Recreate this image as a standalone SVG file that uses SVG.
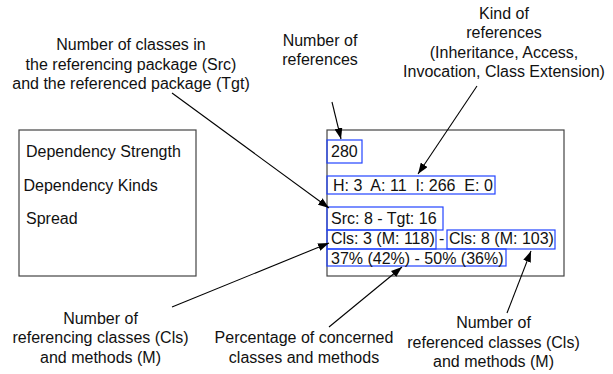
<svg xmlns="http://www.w3.org/2000/svg" width="613" height="374" viewBox="0 0 613 374">
<style>
text{font-family:"Liberation Sans",Arial,Helvetica,sans-serif;font-size:16px;fill:#111}
.c{text-anchor:middle}
.box{fill:#fff;stroke:#444;stroke-width:1.2}
.b{fill:none;stroke:#2244ff;stroke-width:1.2}
.ln{stroke:#000;stroke-width:1.1;fill:none}
</style>
<defs>
<marker id="ah" markerUnits="userSpaceOnUse" markerWidth="11" markerHeight="8" refX="11" refY="4" orient="auto">
<path d="M0,0 L11,4 L0,8 z" fill="#000"/>
</marker>
</defs>
<rect width="613" height="374" fill="#fff"/>
<g id="left-box">
<rect class="box" x="19" y="130" width="177" height="146"/>
<text x="26" y="157">Dependency Strength</text>
<text x="23.5" y="190.5">Dependency Kinds</text>
<text x="26" y="224">Spread</text>
</g>
<g id="right-box">
<rect class="box" x="327" y="130" width="237" height="146"/>
</g>
<g id="refs-count">
<rect class="b" x="327" y="140" width="35" height="23"/>
<text x="331" y="156.5">280</text>
</g>
<g id="kinds">
<rect class="b" x="327" y="176" width="168" height="18"/>
<text x="333" y="191" xml:space="preserve">H: 3  A: 11  I: 266  E: 0</text>
</g>
<g id="src-tgt">
<rect class="b" x="327" y="207" width="116" height="23"/>
<text x="331" y="224">Src: 8 - Tgt: 16</text>
</g>
<g id="cls-src">
<rect class="b" x="327" y="230" width="109" height="19"/>
<text x="331" y="244">Cls: 3 (M: 118)</text>
</g>
<g id="dash">
<text x="439" y="244">-</text>
</g>
<g id="cls-tgt">
<rect class="b" x="447" y="230" width="108" height="19"/>
<text x="449" y="244">Cls: 8 (M: 103)</text>
</g>
<g id="percent">
<rect class="b" x="327" y="249" width="179" height="17"/>
<text x="331" y="264">37% (42%) - 50% (36%)</text>
</g>
<g id="label-src-tgt">
<text class="c" x="131" y="50">Number of classes in</text>
<text class="c" x="131" y="69.5">the referencing package (Src)</text>
<text class="c" x="131" y="89">and the referenced package (Tgt)</text>
</g>
<g id="label-refs">
<text class="c" x="320" y="45.5">Number of</text>
<text class="c" x="320" y="64.5">references</text>
</g>
<g id="label-kinds">
<text class="c" x="504" y="18.5">Kind of</text>
<text class="c" x="504" y="38">references</text>
<text class="c" x="504" y="57.5">(Inheritance, Access,</text>
<text class="c" x="504" y="77">Invocation, Class Extension)</text>
</g>
<g id="label-cls-src">
<text class="c" x="100.5" y="323.5">Number of</text>
<text class="c" x="100.5" y="343">referencing classes (Cls)</text>
<text class="c" x="100.5" y="362.5">and methods (M)</text>
</g>
<g id="label-percent">
<text class="c" x="304" y="343">Percentage of concerned</text>
<text class="c" x="304" y="362.5">classes and methods</text>
</g>
<g id="label-cls-tgt">
<text class="c" x="493.5" y="327.5">Number of</text>
<text class="c" x="493.5" y="347.5">referenced classes (Cls)</text>
<text class="c" x="493.5" y="367">and methods (M)</text>
</g>
<g id="connectors">
<line class="ln" x1="172" y1="93" x2="329" y2="208" marker-end="url(#ah)"/>
<line class="ln" x1="172" y1="307" x2="329" y2="243" marker-end="url(#ah)"/>
<line class="ln" x1="332" y1="102" x2="341" y2="139" marker-end="url(#ah)"/>
<line class="ln" x1="477" y1="86" x2="418" y2="174" marker-end="url(#ah)"/>
<line class="ln" x1="329" y1="327" x2="402" y2="267" marker-end="url(#ah)"/>
<line class="ln" x1="507" y1="313" x2="531" y2="251" marker-end="url(#ah)"/>
</g>
</svg>
